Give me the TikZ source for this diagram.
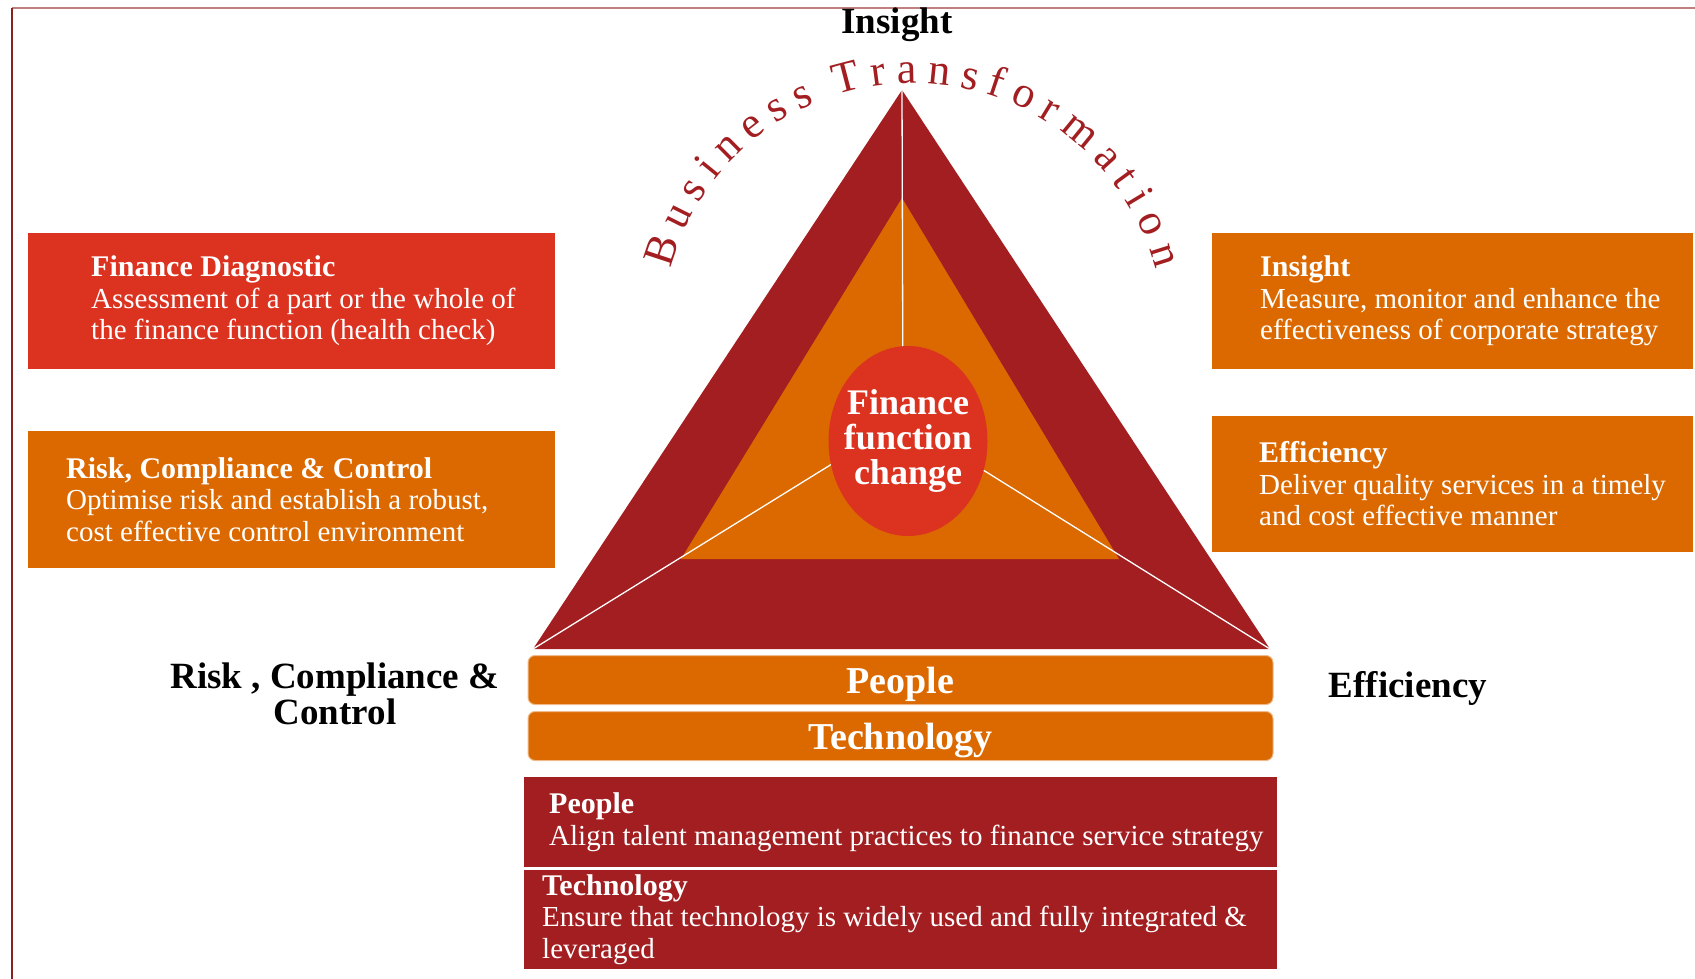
\documentclass[tikz,border=0pt]{standalone}
\usepackage{fontspec}
\setmainfont{Liberation Serif}
\usetikzlibrary{positioning}
\usetikzlibrary{shapes.geometric}
\usetikzlibrary{decorations.text}

\definecolor{deepred}{HTML}{A21E21}
\definecolor{flame}{HTML}{DC3220}
\definecolor{amber}{HTML}{DB6900}
\definecolor{rosegrey}{HTML}{C08080}
\definecolor{framered}{HTML}{8B2020}

\newcommand{\cardhead}{\bfseries\fontsize{30}{31.5}\selectfont}
\newcommand{\cardbody}{\fontsize{29}{31.5}\selectfont}
\newcommand{\bigbold}{\bfseries\fontsize{37}{36}\selectfont}
\newcommand{\arcfont}{\color{deepred}\fontsize{44}{44}\selectfont\fontdimen2\font=3pt}

\tikzset{
  card/.style={anchor=north west, inner sep=0pt, outer sep=0pt},
  cardtext/.style={anchor=west, inner sep=0pt, align=left, text=white, font=\cardbody},
  band/.style={rounded corners=7pt, fill=amber, draw=amber!45!white, line width=1pt,
    minimum width=745pt, minimum height=49pt, text depth=0pt, text=white,
    font=\bfseries\fontsize{38}{38}\selectfont},
  corner/.style={align=center, font=\bigbold},
  spoke/.style={white, line width=1.3pt}
}

\begin{document}
\begin{tikzpicture}[x=1pt, y=-1pt]
  \useasboundingbox (0,0) rectangle (1695,979);

  % frame
  \draw[rosegrey, line width=1.5pt] (12,8) -- (1695,8);
  \draw[framered, line width=1.5pt] (12,8) -- (12,979);

  % pyramid
  \coordinate (apex) at (902,90);
  \coordinate (bl) at (533,649);
  \coordinate (br) at (1270,649);
  \coordinate (iapex) at (902,198);
  \coordinate (ibl) at (681,559);
  \coordinate (ibr) at (1119,559);
  \coordinate (hub) at (903,420);
  \fill[deepred] (apex) -- (bl) -- (br) -- cycle;
  \fill[amber] (iapex) -- (ibl) -- (ibr) -- cycle;

  \draw[spoke] (apex) -- (hub);
  \draw[spoke] (hub) -- (bl);
  \draw[spoke] (hub) -- (br);
  \node[ellipse, fill=flame, minimum width=159pt, minimum height=190pt, inner sep=0pt]
    (core) at (908,441) {};
  \node[align=center, text=white, inner sep=0pt, font=\bfseries\fontsize{36}{35}\selectfont]
    (coretext) at (core.center) {Finance\\function\\change};

  % arc title
  \path[decorate, decoration={text along path, text align={fit to path},
      text={|\arcfont|Business Transformation}}]
    ([shift={(913,334)}]195:251) arc[start angle=195, end angle=345, radius=251];

  % corner labels
  \node[corner] (toplabel) at (897,25) {Insight};
  \node[corner] (leftlabel) at (335,694) {Risk , Compliance \&\\Control};
  \node[corner] (rightlabel) at (1408,688) {Efficiency};

  % side cards
  \node[card, fill=flame, minimum width=527pt, minimum height=136pt] (diagbox) at (28,233) {};
  \node[cardtext, right=63pt of diagbox.west] (diagtext)
    {{\cardhead Finance Diagnostic}\\Assessment of a part or the whole of\\the finance function (health check)};

  \node[card, fill=amber, minimum width=527pt, minimum height=137pt] (riskbox) at (28,431) {};
  \node[cardtext, right=38pt of riskbox.west] (risktext)
    {{\cardhead Risk, Compliance \& Control}\\Optimise risk and establish a robust,\\cost effective control environment};

  \node[card, fill=amber, minimum width=481pt, minimum height=136pt] (insbox) at (1212,233) {};
  \node[cardtext, right=48pt of insbox.west] (instext)
    {{\cardhead Insight}\\Measure, monitor and enhance the\\effectiveness of corporate strategy};

  \node[card, fill=amber, minimum width=481pt, minimum height=136pt] (effbox) at (1212,416) {};
  \node[cardtext, right=47pt of effbox.west] (efftext)
    {{\cardhead Efficiency}\\Deliver quality services in a timely\\and cost effective manner};

  % base bands
  \node[band] (pband) at (900.5,680) {People};
  \node[band] (tband) at (900.5,736) {Technology};

  % bottom cards
  \node[card, fill=deepred, minimum width=753pt, minimum height=90pt] (pbox) at (524,777) {};
  \node[cardtext, right=25pt of pbox.west] (ptext)
    {{\cardhead People}\\Align talent management practices to finance service strategy};

  \node[card, fill=deepred, minimum width=753pt, minimum height=99pt] (tbox) at (524,870) {};
  \node[cardtext, right=18pt of tbox.west] (ttext)
    {{\cardhead Technology}\\Ensure that technology is widely used and fully integrated \&\\leveraged};
\end{tikzpicture}
\end{document}
